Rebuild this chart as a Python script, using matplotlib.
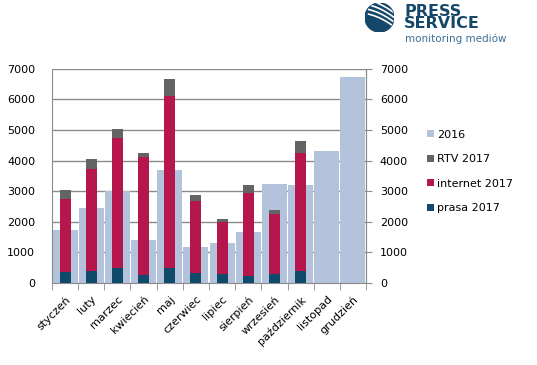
import numpy as np
import matplotlib.pyplot as plt
from matplotlib.patches import Circle

months = ['styczeń', 'luty', 'marzec', 'kwiecień', 'maj', 'czerwiec', 'lipiec',
          'sierpień', 'wrzesień', 'październik', 'listopad', 'grudzień']
y2016 = [1720, 2440, 3000, 1420, 3680, 1160, 1300, 1680, 3220, 3190, 4310, 6740]
prasa = [350, 380, 500, 270, 500, 320, 280, 240, 280, 380]
internet = [2380, 3340, 4240, 3850, 5610, 2350, 1700, 2700, 1970, 3870]
rtv = [300, 320, 280, 120, 560, 190, 100, 250, 150, 390]

c2016 = '#b4c3dc'
c_rtv = '#636466'
c_int = '#b5164b'
c_pra = '#0f4a6a'
grid_c = '#8c8c8c'

fig = plt.figure(figsize=(5.37, 3.65), dpi=100)
ax = fig.add_axes([0.0968, 0.2247, 0.5848, 0.5871])

x = np.arange(len(months))
x17 = np.arange(len(prasa))
b16 = ax.bar(x, y2016, width=0.96, color=c2016, zorder=2, label='2016')
bp = ax.bar(x17, prasa, width=0.42, color=c_pra, zorder=3, label='prasa 2017')
bi = ax.bar(x17, internet, width=0.42, bottom=prasa, color=c_int, zorder=3, label='internet 2017')
bot = np.array(prasa) + np.array(internet)
br = ax.bar(x17, rtv, width=0.42, bottom=bot, color=c_rtv, zorder=3, label='RTV 2017')

ax.set_xlim(-0.5, len(months) - 0.5)
ax.set_ylim(0, 7000)
ax.set_yticks(range(0, 7001, 1000))
ax.yaxis.grid(True, color=grid_c, lw=1, zorder=0)
ax.set_axisbelow(True)
ax.tick_params(axis='y', length=0, labelsize=8, pad=12)

ax.set_xticks(x)
ax.set_xticklabels(months, rotation=45, ha='right', rotation_mode='anchor', fontsize=8)
ax.set_xticks(np.arange(-0.5, len(months), 1), minor=True)
ax.tick_params(axis='x', which='major', length=0, pad=8)
ax.tick_params(axis='x', which='minor', length=5, color=grid_c)

for s in ['left', 'right', 'bottom']:
    ax.spines[s].set_color(grid_c)
ax.spines['top'].set_visible(False)

ax2 = ax.twinx()
ax2.set_ylim(0, 7000)
ax2.set_yticks(range(0, 7001, 1000))
ax2.tick_params(axis='y', length=4, color=grid_c, labelsize=8, pad=6)
for s in ['left', 'top', 'bottom']:
    ax2.spines[s].set_visible(False)
ax2.spines['right'].set_color(grid_c)

fig.legend([b16, br, bi, bp], ['2016', 'RTV 2017', 'internet 2017', 'prasa 2017'],
           loc='upper left', bbox_to_anchor=(0.777, 0.672), frameon=False,
           fontsize=8, handlelength=0.6, handleheight=0.6, handletextpad=0.3,
           labelspacing=1.3)

# logo
lax = fig.add_axes([365 / 537, 1 - 32 / 365, 29 / 537, 29 / 365])
lax.set_xlim(-1, 1)
lax.set_ylim(-1, 1)
lax.set_aspect('equal')
lax.axis('off')
circ = Circle((0, 0), 1, color='#15476a')
lax.add_patch(circ)
for off in [-0.1, 0.22, 0.54, 0.86]:
    t = np.linspace(-1, 1, 50)
    ln, = lax.plot(t * 0.9 + 0.15, -t * 0.45 - t ** 2 * 0.12 + off, color='white', lw=1.2)
    ln.set_clip_path(circ)
fig.text(404 / 537, 1 - 4 / 365, 'PRESS\nSERVICE', fontsize=11.5, fontweight='bold',
         color='#15476a', va='top', ha='left', linespacing=0.72)
fig.text(405 / 537, 1 - 33 / 365, 'monitoring mediów', fontsize=7.5, color='#3d6f94',
         va='top', ha='left')

fig.savefig('out.png', dpi=100)
